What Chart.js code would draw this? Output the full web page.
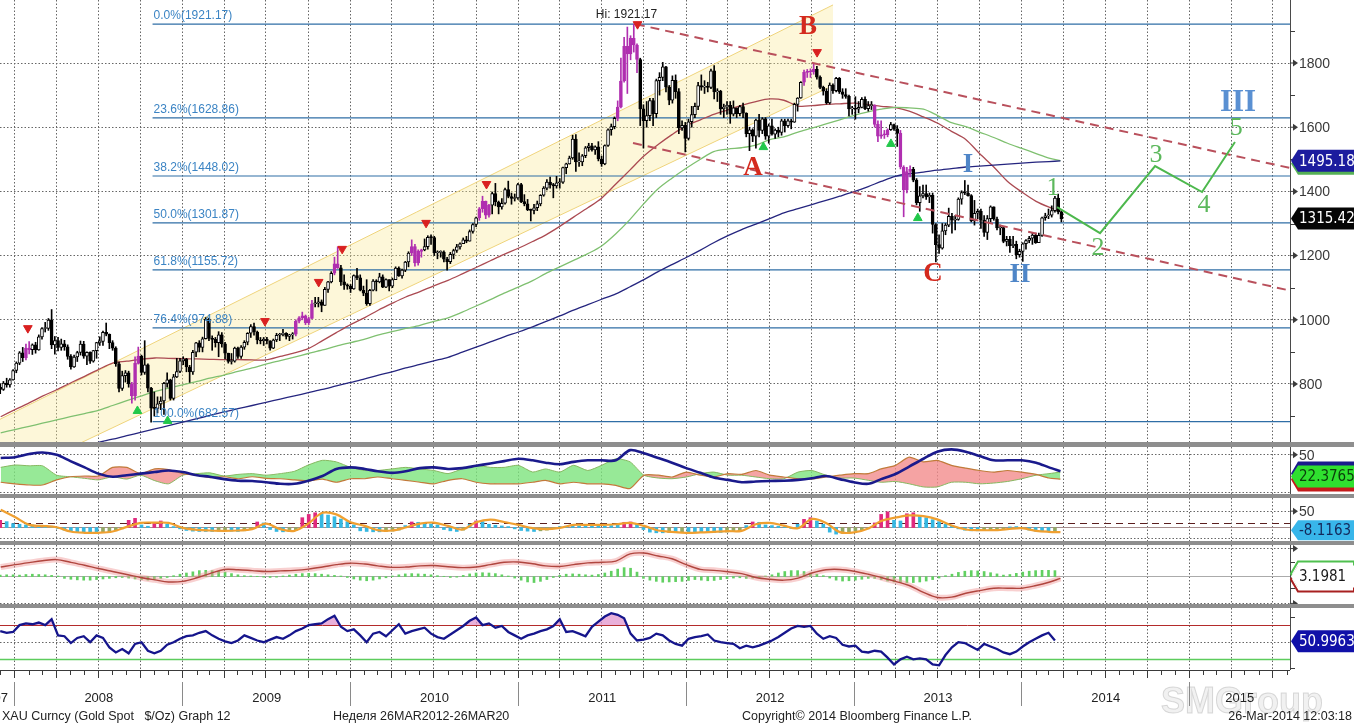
<!DOCTYPE html>
<html><head><meta charset="utf-8"><title>XAU Curncy</title>
<script src="https://cdn.jsdelivr.net/npm/chart.js@4.4.1/dist/chart.umd.min.js"></script>
<style>
html,body{margin:0;padding:0;background:#fff;}
#wrap{position:relative;width:1354px;height:723px;overflow:hidden;background:#fff;}
.pane{position:absolute;left:0;width:1354px;}
.sep{position:absolute;left:0;width:1354px;background:#8e8e8e;}
</style></head><body>
<div id="wrap">
 <div class="pane" style="top:0;height:442px"><canvas id="cMain"></canvas></div>
 <div class="sep" style="top:442px;height:5px"></div>
 <div class="pane" style="top:447px;height:47px"><canvas id="cDmi"></canvas></div>
 <div class="sep" style="top:494px;height:4px"></div>
 <div class="pane" style="top:498px;height:43px"><canvas id="cOsc"></canvas></div>
 <div class="sep" style="top:541px;height:4px"></div>
 <div class="pane" style="top:545px;height:59px"><canvas id="cMacd"></canvas></div>
 <div class="sep" style="top:604px;height:4px"></div>
 <div class="pane" style="top:608px;height:115px"><canvas id="cRsi"></canvas></div>
</div>
<script>
// ================= DATA =================
// weekly XAU candles, first week ending 30-Nov-2007
const FIRST_OPEN = 790;
const weekClose = [
783,803,797,813,842,
865,897,882,912,907,922,906,947,973,973,999,922,935,
914,925,916,886,853,884,898,924,887,899,871,904,929,
933,961,955,929,912,863,786,826,835,800,763,864,887,
836,860,787,725,724,738,747,802,813,755,822,839,872,
878,853,838,899,928,914,941,1002,942,939,929,953,925,
896,870,871,912,886,915,930,958,979,962,937,934,940,
934,912,937,952,954,958,948,953,955,996,1006,1012,991,
1004,1050,1052,1056,1045,1095,1118,1145,1174,1162,1118,1109,1105,
1096,1138,1131,1092,1083,1050,1092,1121,1118,1134,1102,1125,1105,
1125,1161,1137,1155,1180,1208,1228,1177,1213,1218,1228,1257,1256,
1209,1210,1211,1189,1181,1204,1216,1227,1237,1249,1245,1275,1297,
1318,1346,1369,1326,1357,1393,1367,1352,1363,1406,1384,1378,1380,1421,
1368,1361,1343,1341,1349,1361,1388,1410,1429,1421,1417,1427,
1429,1474,1486,1504,1563,1492,1492,1511,1536,1542,1529,1539,1501,
1486,1543,1592,1602,1628,1663,1744,1852,1828,1877,1856,1811,1657,1620,
1636,1683,1642,1745,1755,1788,1725,1684,1746,1711,1598,1606,1565,
1617,1639,1665,1730,1725,1725,1724,1776,1710,1712,1657,1663,1668,
1641,1660,1642,1664,1644,1580,1592,1572,1622,1590,1626,1572,1604,
1578,1591,1584,1620,1605,1620,1616,1671,1691,1740,1771,1773,1772,
1780,1756,1724,1712,1676,1731,1714,1752,1710,1702,1696,1657,1657,
1656,1662,1687,1658,1667,1667,1609,1572,1576,1577,1592,1608,1595,
1581,1476,1405,1462,1469,1435,1365,1386,1393,1383,1388,1297,1234,
1223,1277,1295,1322,1310,1313,1376,1396,1395,1387,1308,1332,1338,
1310,1272,1315,1352,1314,1286,1287,1244,1251,1231,1235,1203,1213,
1237,1247,1254,1264,1240,1263,1318,1324,1326,1340,1379,1336,1315];
const weekHigh = [
800,808,818,817,845,
869,901,914,924,932,925,930,953,976,992,1004,1032,948,
945,940,936,922,892,890,902,934,933,900,900,905,930,
947,965,990,956,935,916,868,840,842,840,805,885,915,
890,935,863,790,775,760,760,805,835,815,830,880,880,
885,880,858,905,930,935,946,1007,1005,950,945,963,960,
930,896,895,915,915,920,935,960,985,990,965,945,945,
945,935,940,958,958,970,960,955,960,1000,1010,1024,1015,
1008,1061,1070,1070,1062,1101,1120,1150,1195,1227,1170,1140,1112,
1110,1140,1160,1140,1105,1125,1095,1125,1125,1145,1140,1128,1125,
1130,1165,1165,1158,1182,1212,1249,1235,1218,1220,1252,1262,1265,
1260,1215,1215,1215,1195,1210,1220,1235,1240,1255,1260,1280,1300,
1320,1350,1385,1370,1360,1398,1425,1370,1378,1410,1432,1395,1392,1425,
1425,1390,1375,1345,1360,1370,1390,1415,1437,1445,1425,1447,
1440,1476,1488,1510,1575,1577,1520,1515,1540,1550,1550,1542,1555,
1510,1545,1595,1610,1632,1682,1815,1880,1912,1885,1921,1860,1815,1670,
1680,1690,1690,1750,1770,1802,1790,1730,1760,1763,1720,1620,1615,
1625,1665,1675,1740,1763,1745,1740,1781,1792,1720,1715,1672,1680,
1680,1682,1660,1668,1675,1645,1600,1595,1625,1640,1630,1630,1610,
1625,1595,1600,1625,1625,1625,1625,1675,1692,1742,1778,1780,1782,
1796,1790,1760,1728,1720,1738,1735,1755,1755,1720,1720,1700,1665,
1695,1680,1692,1695,1680,1680,1670,1620,1620,1590,1595,1615,1610,
1605,1590,1480,1475,1480,1475,1440,1415,1420,1420,1395,1395,1300,
1265,1300,1300,1348,1332,1325,1380,1402,1434,1420,1390,1372,1345,
1345,1325,1325,1355,1352,1320,1295,1290,1260,1260,1260,1245,1220,
1240,1250,1260,1270,1270,1270,1320,1332,1345,1355,1385,1392,1340];
const weekLow = [
770,780,790,790,812,
835,860,870,875,894,892,896,905,940,962,967,910,893,
903,905,905,877,846,852,870,890,880,860,864,868,880,
920,920,950,910,905,855,775,780,806,790,740,750,862,
828,830,775,681,700,710,720,705,790,750,750,820,835,
860,838,805,830,885,900,900,940,935,905,915,885,915,
878,865,862,868,880,880,908,922,945,952,925,925,920,
925,905,910,932,935,950,940,935,940,950,990,1000,985,
985,1003,1040,1040,1025,1045,1085,1115,1140,1160,1107,1095,1095,
1085,1095,1125,1090,1075,1045,1045,1090,1090,1115,1100,1100,1090,
1100,1125,1135,1130,1150,1165,1200,1167,1170,1195,1215,1220,1235,
1200,1190,1195,1180,1155,1175,1190,1210,1220,1240,1240,1245,1270,
1290,1310,1335,1315,1320,1330,1355,1330,1345,1360,1380,1360,1370,1375,
1365,1355,1340,1308,1330,1340,1355,1385,1405,1410,1380,1410,
1410,1425,1455,1485,1500,1462,1478,1480,1505,1525,1525,1515,1495,
1478,1483,1540,1575,1595,1620,1660,1740,1705,1810,1834,1770,1605,1535,
1600,1620,1605,1630,1700,1745,1710,1670,1675,1690,1580,1590,1523,
1560,1600,1630,1655,1715,1705,1710,1720,1688,1680,1640,1630,1640,
1612,1635,1630,1635,1630,1570,1527,1555,1535,1570,1580,1562,1550,
1575,1565,1570,1575,1585,1600,1595,1615,1650,1690,1730,1755,1755,
1765,1750,1720,1700,1672,1672,1705,1710,1705,1690,1690,1635,1640,
1625,1645,1660,1655,1650,1655,1600,1555,1565,1565,1570,1590,1590,
1540,1470,1321,1395,1445,1430,1358,1338,1380,1375,1365,1270,1180,
1207,1220,1265,1290,1270,1280,1310,1360,1390,1385,1305,1295,1315,
1285,1260,1250,1305,1310,1280,1265,1240,1230,1210,1225,1190,1195,
1182,1220,1240,1235,1238,1240,1260,1310,1315,1320,1335,1330,1305];

// monthly moving averages (1st of month, Dec-2007 .. Mar-2014, then 26-Mar-2014)
const ma50 = [698,720,741,762,782,803,824,845,865,871,877,881,880,879,878,877,876,876,875,875,886,897,910,935,960,985,1007,1029,1051,1071,1088,1106,1123,1143,1163,1184,1204,1223,1244,1264,1291,1320,1349,1379,1423,1467,1510,1546,1577,1605,1623,1640,1654,1668,1680,1688,1684,1666,1667,1671,1673,1675,1670,1665,1661,1650,1632,1613,1587,1562,1518,1476,1431,1398,1369,1351,1338];
const ma100 = [648,658,668,678,688,698,708,718,733,748,762,776,787,797,808,818,828,839,850,862,873,884,895,906,918,929,940,952,963,973,983,995,1006,1024,1043,1063,1083,1102,1122,1144,1165,1185,1206,1230,1268,1313,1362,1408,1441,1472,1500,1524,1532,1536,1544,1561,1570,1585,1597,1610,1623,1637,1648,1656,1662,1660,1656,1637,1614,1602,1585,1568,1550,1534,1518,1504,1496];
const ma200 = [543,554,565,575,586,597,607,618,628,639,649,660,670,681,692,702,713,723,733,743,753,763,773,783,794,805,816,827,838,850,861,872,883,899,915,931,947,962,978,994,1012,1030,1047,1064,1081,1103,1125,1150,1172,1194,1217,1240,1262,1281,1298,1315,1333,1346,1359,1372,1385,1399,1415,1431,1447,1455,1460,1466,1471,1476,1479,1482,1485,1488,1491,1493,1495];

// Fibonacci retracement
const fibPct = ['0.0%','23.6%','38.2%','50.0%','61.8%','76.4%','100.0%'];
const fibLevel = [1921.17,1628.86,1448.02,1301.87,1155.72,974.88,682.57];
const FIB_START = 2008.82;

// regression channel (decimal years / price)
const chanT = [2007.911, 2012.875];
const chanUpV = [690, 1981];
const chanLoV = [497, 1730];
// falling trend channel
const trendUpT = [2011.70, 2015.598];
const trendUpV = [1921, 1473];
const trendLoT = [2011.683, 2015.598];
const trendLoV = [1551, 1091];
// wave projection
const projT = [2014.21, 2014.466, 2014.794, 2015.074, 2015.27];
const projV = [1351, 1270, 1479, 1398, 1554];
// swing markers
const topMarkT = [2008.077, 2009.49, 2009.81, 2009.95, 2010.45, 2010.81, 2011.71, 2012.78];
const topMarkV = [974, 996, 1118, 1221, 1302, 1423, 1921, 1834];
const botMarkT = [2008.73, 2008.91, 2012.46, 2013.22, 2013.38];
const botMarkV = [716, 685, 1538, 1548, 1317];
// wave labels
const waveText = ['A','B','C','I','II','III','1','2','3','4','5'];
const waveT = [2012.398,2012.726,2013.471,2013.679,2013.989,2015.288,2014.186,2014.454,2014.80,2015.086,2015.277];
const waveV = [1473,1912,1143,1482,1140,1675,1411,1224,1513,1358,1598];
const HI_T = 2011.68, HI_V = 1921.17;
const lastPrice = 1315.42, lastMA200 = 1495.18;

// DMI panel (monthly)
const adx = [46,47,51,53,50,42,34,26,22,24,26,28,30,28,24,22,19,17,16.5,15,13,13,17,23,32,34,32,29,27,29,33,34,32,33,36,39,42,45,43,40,38,41,43,43,43,56,52,46,40,33,27,21,18,15,16,16.6,17,18,20,23,19,15,13,19,25.5,35,45,54,57,54,48.5,43,43,43,40,34,29];
const plusDI = [34,37,36,36,24,22,20,18,22,19,24,17,13,24,26,27,23,25,26,24,26,29,37,43,41,34,30,30,32,34,32,30,26,32,36.6,34,34,36.6,28,32,28,36.6,30,36.6,45,41,24,20.4,19.5,21.7,26,28,24,24,21.7,19.5,19.5,28,30,24,20.4,20.4,17.5,15,16,13,9,9,15,15,13,14,16,19.5,24,26,28];
const minusDI = [15,13,11.5,11.5,18,22,23,23,34,34,26,32,31,26,24,21,22,19.5,22,20,19.5,18,16.6,19,15,19.5,19.5,21.7,19.5,17.5,15,13,17.5,19.5,15,13,13,13,15,17.5,13,15,13,13,11,7,24,24,21.7,28,24,21.7,26,25,30,24,21.7,19.5,19,21.7,24,26,26,32,36.6,47,41,43,36.6,33,30,28,30,28,25,20.4,19];
const dmiLast = '22.3765';

// oscillator panel: biweekly histogram + monthly signal
const oscHist = [22,18,12,10,8,8,7,6,4,-3, -8,-11,-13,-15,-16,-16,-15,-13,-10,-4, 22,28,8,4,16,20,10,3,-4,-9, -11,-12,-12,-12,-11,-10,-11,-12,-10,-5, 17,14,-6,-12,-13,-12,-9,30,40,45, 42,38,33,26,18,8,-10,-12,-13,-13, -12,-11,-8,6,17,16,12,11,8,-6, -10,-12,-8,10,20,18,10,7,5,3, -4,-9,-11,-12,-10,-8,-3,3,4,5, 5,4,5,5,4,6,8,16,17,10, -6,-14,-16,-16,-15,-15,-14,-14,-14,-14, -14,-15,-15,-14,-12,-10,6,17,16,8, 6,4,2,-3,10,25,30,20,10,-14, -20,-18,-13,-10,-7,-4,14,40,48,22, 20,42,45,35,30,24,18,10,5,-4, -8,-10,-10,-9,-8,-7,-5,2,3,-3, -8,-11,-12,-13,-12];
const oscSignal = [54,32,8,5,1,-12,-16,-16,-12,2,14,15,14,-1,-7,-9,-10,-9,-5,12,-5,-10,12,45,40,16,5,-8,-9,0,12,15,5,-6,16,24,17,8,-2,-5,-1,8,8,8,10,14,5,-9,-13,-16,-15,-13,-11,-10,10,14,6,-2,26,14,-14,-15,-3,20,30,37,35,25,6,-6,-8,-8,-5,-2,-10,-13,-14];
const OSC_TRIGGER = 12;
const oscLast = '-8.1163';

// MACD-type panel: monthly line + biweekly histogram
const macdLine = [3.2,4.0,4.7,5.3,5.7,4.8,3.8,2.7,1.7,0.7,-0.3,-1.1,-1.8,-1.6,-0.4,1.0,2.4,2.3,2.0,1.7,1.9,2.1,2.5,3.2,4.0,4.5,4.2,3.6,3.1,3.2,3.6,3.7,3.3,3.0,3.2,4.0,4.8,4.9,4.3,3.6,3.4,4.0,4.6,4.8,5.2,7.6,7.9,6.9,6.0,4.0,2.4,2.1,1.6,1.0,-0.3,-0.9,-1.2,-0.5,1.2,2.3,2.4,1.8,0.8,-0.3,-1.6,-3.0,-5.3,-7.0,-6.9,-5.6,-4.7,-3.9,-3.9,-3.9,-3.0,-1.9,-0.6];
const macdHist = [0.5,0.6,0.6,0.5,0.7,0.8,0.7,0.6,0.4,0.2, -0.6,-0.9,-1.1,-1.2,-1.2,-1.0,-0.8,-0.6,-0.4,-0.3, -0.5,-0.8,-1.0,-1.2,-1.0,-0.6,-0.3,0.3,0.8,1.2, 1.6,2.0,2.1,2.0,1.8,1.5,1.0,0.6,0.3,0.2, 0.1,-0.2,-0.3,-0.2,0.2,0.5,0.8,1.0,1.1,1.0, 0.8,0.6,0.4,0.2,-0.3,-0.8,-1.2,-1.4,-1.2,-0.8, -0.4,0.2,0.6,0.9,1.0,0.9,0.8,0.6,0.3,0.1, -0.3,-0.2,0.4,0.9,1.2,1.3,1.2,1.0,0.6,0.2, -0.5,-1.2,-1.8,-2.0,-1.6,-1.0,-0.3,0.4,0.8,0.9, 0.8,0.6,0.5,0.7,1.2,1.8,2.5,3.0,2.8,1.5, -0.6,-1.2,-1.6,-1.9,-1.8,-1.7,-1.6,-1.3,-1.0,-1.2, -1.4,-1.3,-1.0,-0.7,-0.5,-0.4,-0.6,-0.5,-0.3,0.2, 0.6,1.2,1.7,2.0,2.0,1.7,1.2,0.8,0.3,-0.5, -1.2,-1.5,-1.4,-1.2,-0.9,-0.6,-0.6,-1.0,-1.5,-1.8, -2.0,-2.1,-2.0,-1.8,-1.5,-1.0,-0.5,0.3,0.8,1.4, 1.8,2.0,1.9,1.7,1.3,0.9,0.5,0.7,1.1,1.5, 1.8,2.0,2.1,2.1,2.0];
const macdLast = '3.1981';

// RSI (biweekly)
const rsi = [63,61,62,70,72,71,73,70,77,58, 57,49,55,57,50,58,55,44,38,42, 37,48,50,40,37,40,47,50,54,57, 58,61,63,58,54,51,49,52,58,55, 52,50,53,56,54,58,63,66,70,71, 72,77,81,68,63,65,58,50,60,62, 57,64,71,60,63,65,67,60,56,54, 59,64,69,75,79,70,72,67,69,62, 58,54,58,60,63,65,69,77,62,63, 60,57,68,74,80,84,82,78,60,52, 53,55,60,58,52,48,46,54,56,57, 59,52,50,49,48,43,46,44,46,49, 52,56,61,66,69,68,69,60,54,57, 55,47,45,46,39,38,40,39,32,24, 30,33,30,31,30,24,23,35,44,50, 49,45,41,48,45,42,38,36,39,45, 50,54,58,61,52];
const RSI_HI = 70, RSI_LO = 30;
const rsiLast = '50.9963';

// axis labels
const priceTicks = [800,1000,1200,1400,1600,1800];
const priceMinor = [700,900,1100,1300,1500,1700,1900];
const yearLabels = [2008,2009,2010,2011,2012,2013,2014,2015];
const footerLeft = 'XAU Curncy (Gold Spot   $/Oz) Graph 12';
const footerMid = 'Неделя 26MAR2012-26MAR20';
const footerCopy = 'Copyright\u00a9 2014 Bloomberg Finance L.P.';
const footerDate = '26-Mar-2014 12:03:18';
const highlightWeeks = [[8,9],[41,43],[92,97],[104,105],[128,131],[149,152],[192,198],[250,253],[272,276],[280,283]];

// ================= HELPERS =================
const DAY = 864e5;
const START = Date.UTC(2007,10,30);
function tOfMs(ms){const y=new Date(ms).getUTCFullYear();const a=Date.UTC(y,0,1),b=Date.UTC(y+1,0,1);return y+(ms-a)/(b-a);}
const X_MIN = 2007.911, X_MAX = 2015.598;
const AXIS_W = 64;
const SANS = '"Liberation Sans", Arial, sans-serif';
const NARROW = '"Liberation Sans Narrow", "DejaVu Sans Condensed", "Liberation Sans", sans-serif';
const SERIF = '"Liberation Serif", "DejaVu Serif", serif';

const wT = weekClose.map((_,i)=>tOfMs(START+i*7*DAY));
const bT = oscHist.map((_,i)=>tOfMs(START+i*14*DAY));
const mT = ma50.map((_,k)=> k<ma50.length-1 ? tOfMs(Date.UTC(2007,11+k,1)) : tOfMs(Date.UTC(2014,2,26)));
const quarterTs=[], monthTs=[];
for(let yr=2007;yr<=2015;yr++)for(let m=0;m<12;m++){const t=tOfMs(Date.UTC(yr,m,1)); if(t<X_MIN||t>X_MAX)continue; monthTs.push({t,q:m%3===0}); if(m%3===0)quarterTs.push(t);}
const pts=(ts,vs)=>ts.map((t,i)=>({x:t,y:vs[i]}));

function line(ctx,x1,y1,x2,y2){ctx.beginPath();ctx.moveTo(x1,y1);ctx.lineTo(x2,y2);ctx.stroke();}
function txt(ctx,s,x,y,font,color,align,base){ctx.font=font;ctx.fillStyle=color;ctx.textAlign=align||'center';ctx.textBaseline=base||'middle';ctx.fillText(s,x,y);}
function arrowTick(ctx,x0,py){ctx.fillStyle='#3c3c3c';ctx.strokeStyle='#3c3c3c';ctx.lineWidth=1;line(ctx,x0,py,x0+4,py);ctx.beginPath();ctx.moveTo(x0+3,py-3.5);ctx.lineTo(x0+8,py);ctx.lineTo(x0+3,py+3.5);ctx.closePath();ctx.fill();}
function minorTick(ctx,x0,py){ctx.strokeStyle='#3c3c3c';ctx.lineWidth=1;line(ctx,x0,Math.round(py)+0.5,x0+5,Math.round(py)+0.5);}
function valBox(ctx,x0,yc,h,fill,stroke,text,tcolor,font){
  ctx.beginPath();ctx.moveTo(x0+1,yc);ctx.lineTo(x0+8,yc-h/2);ctx.lineTo(1354,yc-h/2);ctx.lineTo(1354,yc+h/2);ctx.lineTo(x0+8,yc+h/2);ctx.closePath();
  if(fill){ctx.fillStyle=fill;ctx.fill();}
  if(stroke){ctx.strokeStyle=stroke;ctx.lineWidth=2;ctx.stroke();}
  if(text){txt(ctx,text,x0+9,yc+1,font||('15px '+NARROW),tcolor,'left','middle');}
}
function baseOpts(yMin,yMax,padBottom){
  return {responsive:true,maintainAspectRatio:false,animation:false,events:[],
    layout:{autoPadding:false,padding:{left:0,right:AXIS_W,top:0,bottom:padBottom||0}},
    elements:{point:{radius:0},line:{tension:0}},
    plugins:{legend:{display:false},tooltip:{enabled:false}},
    scales:{
      x:{type:'linear',min:X_MIN,max:X_MAX,display:false,offset:false},
      y:{type:'linear',min:yMin,max:yMax,display:false}
    }};
}
function decor(cfg){
  return {id:'decor_'+cfg.name,
    beforeDatasetsDraw(chart){
      const {ctx,chartArea:a,scales:{x,y}}=chart;
      ctx.save();ctx.beginPath();ctx.rect(a.left,a.top,a.right-a.left,a.bottom-a.top);ctx.clip();
      ctx.lineWidth=1;ctx.strokeStyle='#666666';ctx.setLineDash([1.5,2]);
      quarterTs.forEach(t=>{const px=Math.floor(x.getPixelForValue(t))+0.5;line(ctx,px,a.top,px,a.bottom);});
      (cfg.hGrid||[]).forEach(v=>{const py=Math.floor(y.getPixelForValue(v))+0.5;line(ctx,a.left,py,a.right,py);});
      (cfg.hLines||[]).forEach(h=>{ctx.strokeStyle=h.c;ctx.lineWidth=h.w||1;ctx.setLineDash(h.d||[]);const py=Math.floor(y.getPixelForValue(h.v))+0.5;line(ctx,a.left,py,a.right,py);});
      ctx.restore();
    },
    afterDraw(chart){
      const {ctx,chartArea:a}=chart;
      ctx.save();
      ctx.strokeStyle='#4a4a4a';ctx.lineWidth=1;ctx.setLineDash([]);
      line(ctx,Math.floor(a.right)+0.5,0,Math.floor(a.right)+0.5,a.bottom);
      if(cfg.after)cfg.after(chart);
      ctx.restore();
    }
  };
}

// ================= MAIN PRICE PANEL =================
const inHL = i => highlightWeeks.some(r=>i>=r[0]&&i<=r[1]);
const MAG = '#b02fb0';
const wOpen = weekClose.map((c,i)=> i===0?FIRST_OPEN:weekClose[i-1]);
const bodyFill = weekClose.map((c,i)=> inHL(i)?MAG:(c>=wOpen[i]?'#ffffff':'#000000'));
const bodyLine = weekClose.map((c,i)=> inHL(i)?MAG:'#000000');

const mainDs = [];
mainDs.push({type:'line',data:pts(chanT,chanUpV),borderColor:'#efd47c',borderWidth:1,fill:{target:1,above:'rgba(250,232,150,0.36)',below:'rgba(250,232,150,0.36)'},order:30});
mainDs.push({type:'line',data:pts(chanT,chanLoV),borderColor:'#efd47c',borderWidth:1,fill:false,order:29});
fibLevel.forEach(v=>mainDs.push({type:'line',data:[{x:FIB_START,y:v},{x:X_MAX,y:v}],borderColor:'#2f6ea6',borderWidth:1.2,fill:false,order:25}));
mainDs.push({type:'line',data:pts(mT,ma200),borderColor:'#25257f',borderWidth:1.3,tension:0.3,fill:false,order:20});
mainDs.push({type:'line',data:pts(mT,ma100),borderColor:'#7fc070',borderWidth:1.3,tension:0.3,fill:false,order:20});
mainDs.push({type:'line',data:pts(mT,ma50),borderColor:'#ab4a52',borderWidth:1.3,tension:0.3,fill:false,order:20});
mainDs.push({type:'bar',data:wT.map((t,i)=>({x:t,y:[weekLow[i],weekHigh[i]]})),backgroundColor:bodyLine,borderWidth:0,barThickness:1,grouped:false,order:12});
mainDs.push({type:'bar',data:wT.map((t,i)=>({x:t,y:[wOpen[i],weekClose[i]]})),backgroundColor:bodyFill,borderColor:bodyLine,borderWidth:1,borderSkipped:false,barThickness:3,minBarLength:1,grouped:false,order:11});
mainDs.push({type:'line',data:pts(trendUpT,trendUpV),borderColor:'#b9505c',borderWidth:2,borderDash:[9,6],fill:false,order:8});
mainDs.push({type:'line',data:pts(trendLoT,trendLoV),borderColor:'#b9505c',borderWidth:2,borderDash:[9,6],fill:false,order:8});
mainDs.push({type:'line',data:pts(projT,projV),borderColor:'#4db84d',borderWidth:2,fill:false,order:7});
mainDs.push({type:'line',data:pts(topMarkT,topMarkV),showLine:false,pointStyle:'triangle',rotation:180,pointRadius:5,pointBackgroundColor:'#d92020',pointBorderColor:'#d92020',order:5});
mainDs.push({type:'line',data:pts(botMarkT,botMarkV),showLine:false,pointStyle:'triangle',pointRadius:5,pointBackgroundColor:'#22c84a',pointBorderColor:'#22c84a',order:5});

const waveStyle = {
  red:{font:'bold 27px '+SERIF,color:'#d42a1e'},
  blue:{font:'bold 27px '+SERIF,color:'#4f86c8'},
  blueL:{font:'bold 31px '+SERIF,color:'#5a90d2'},
  green:{font:'26px '+SERIF,color:'#5cb85c'}
};
const waveKind = ['red','red','red','blue','blue','blueL','green','green','green','green','green'];

new Chart(document.getElementById('cMain'),{
  type:'line',data:{datasets:mainDs},options:baseOpts(619.3,1996.3),
  plugins:[decor({name:'main',hGrid:priceTicks,after(chart){
    const {ctx,chartArea:a,scales:{x,y}}=chart;
    fibLevel.forEach((lv,i)=>txt(ctx,fibPct[i]+'('+lv.toFixed(2)+')',x.getPixelForValue(FIB_START)+1,y.getPixelForValue(lv)-2,'12px '+SANS,'#3b84c4','left','bottom'));
    txt(ctx,'Hi: 1921.17',x.getPixelForValue(HI_T)-6,y.getPixelForValue(HI_V)-9,'12px '+SANS,'#222','center','middle');
    waveText.forEach((s,i)=>{const st=waveStyle[waveKind[i]];txt(ctx,s,x.getPixelForValue(waveT[i]),y.getPixelForValue(waveV[i]),st.font,st.color);});
    priceMinor.forEach(v=>minorTick(ctx,a.right,y.getPixelForValue(v)));
    priceTicks.forEach(v=>{const py=y.getPixelForValue(v);arrowTick(ctx,a.right,py);txt(ctx,String(v),a.right+9,py+1,'14px '+SANS,'#3a3a3a','left','middle');});
    valBox(ctx,a.right,y.getPixelForValue(lastMA200)+3,22,'#55b055',null,null);
    valBox(ctx,a.right,y.getPixelForValue(lastMA200),22,'#1c1c9e',null,lastMA200.toFixed(2),'#ffffff');
    valBox(ctx,a.right,y.getPixelForValue(lastPrice),22,'#050505',null,lastPrice.toFixed(2),'#ffffff');
  }})]
});

// ================= DMI PANEL =================
new Chart(document.getElementById('cDmi'),{
  type:'line',
  data:{datasets:[
    {data:pts(mT,adx),borderColor:'#1a1a8c',borderWidth:2.6,tension:0.3,fill:false,order:1},
    {data:pts(mT,plusDI),borderColor:'#86b860',borderWidth:1,tension:0.2,fill:{target:2,above:'rgba(125,228,125,0.8)',below:'rgba(242,140,140,0.8)'},order:3},
    {data:pts(mT,minusDI),borderColor:'#c27a3a',borderWidth:1.2,tension:0.2,fill:false,order:2}
  ]},
  options:baseOpts(0,60),
  plugins:[decor({name:'dmi',hGrid:[50,1.5],after(chart){
    const {ctx,chartArea:a,scales:{y}}=chart;
    const py=y.getPixelForValue(50);arrowTick(ctx,a.right,py);txt(ctx,'50',a.right+9,py+1,'14px '+SANS,'#3a3a3a','left','middle');
    const yc=y.getPixelForValue(22.3765);
    valBox(ctx,a.right,yc-3,24,'#1a1a8c',null,null);
    valBox(ctx,a.right,yc+3,24,'#c41a1a',null,null);
    valBox(ctx,a.right,yc,22,'#2fe02f',null,dmiLast,'#0b3d0b');
  }})]
});

// ================= OSCILLATOR PANEL =================
const oscColors = oscHist.map((v,i)=>{const p=i?oscHist[i-1]:v; if(v>=14&&v>=p)return '#e02a7e'; if(v>=0)return '#36b8e2'; return (v>p)?'#93a866':'#36b8e2';});
new Chart(document.getElementById('cOsc'),{
  type:'line',
  data:{datasets:[
    {type:'bar',data:pts(bT,oscHist),backgroundColor:oscColors,borderWidth:0,barThickness:3,grouped:false,order:3},
    {data:pts(mT,oscSignal),borderColor:'#f0a030',borderWidth:2.2,tension:0.35,fill:false,order:1}
  ]},
  options:baseOpts(-41,90),
  plugins:[decor({name:'osc',hGrid:[50,-33],hLines:[{v:OSC_TRIGGER,c:'#5a1e1e',d:[7,5]},{v:0,c:'#a58c8c'}],after(chart){
    const {ctx,chartArea:a,scales:{y}}=chart;
    const py=y.getPixelForValue(50);arrowTick(ctx,a.right,py);txt(ctx,'50',a.right+9,py+1,'14px '+SANS,'#3a3a3a','left','middle');
    valBox(ctx,a.right,y.getPixelForValue(-8.1163),20,'#38b6ea',null,oscLast,'#14285a');
  }})]
});

// ================= MACD PANEL =================
new Chart(document.getElementById('cMacd'),{
  type:'line',
  data:{datasets:[
    {type:'bar',data:pts(bT,macdHist),backgroundColor:'#62d062',borderWidth:0,barThickness:2,grouped:false,order:3},
    {data:pts(mT,macdLine),borderColor:'rgba(240,150,150,0.45)',borderWidth:6,tension:0.35,fill:false,order:2},
    {data:pts(mT,macdLine),borderColor:'#b0463f',borderWidth:1.4,tension:0.35,fill:false,order:1}
  ]},
  options:baseOpts(-9.2,10.6),
  plugins:[decor({name:'macd',hGrid:[9.4,-9],hLines:[{v:0,c:'#ababab'}],after(chart){
    const {ctx,chartArea:a,scales:{y}}=chart;
    arrowTick(ctx,a.right,y.getPixelForValue(9.4));arrowTick(ctx,a.right,y.getPixelForValue(-9));
    minorTick(ctx,a.right,y.getPixelForValue(4.8));minorTick(ctx,a.right,y.getPixelForValue(-3.7));
    const yc=y.getPixelForValue(0);
    valBox(ctx,a.right,yc-3,24,null,'#4fc04f',null);
    valBox(ctx,a.right,yc+3,24,null,'#a82020',null);
    valBox(ctx,a.right,yc,22,'#ffffff',null,macdLast,'#1a1a1a');
  }})]
});

// ================= RSI PANEL + TIME AXIS =================
new Chart(document.getElementById('cRsi'),{
  type:'line',
  data:{datasets:[
    {data:pts(bT,rsi),borderColor:'#15158c',borderWidth:2.3,fill:{target:{value:RSI_HI},above:'rgba(226,150,206,0.75)',below:'rgba(0,0,0,0)'},order:1}
  ]},
  options:baseOpts(17.5,90,53),
  plugins:[decor({name:'rsi',hGrid:[50],hLines:[{v:RSI_HI,c:'#b42b2b'},{v:RSI_LO,c:'#5ccc5c',w:1.5}],after(chart){
    const {ctx,chartArea:a,scales:{x,y}}=chart;
    minorTick(ctx,a.right,y.getPixelForValue(80));minorTick(ctx,a.right,y.getPixelForValue(20));
    valBox(ctx,a.right,y.getPixelForValue(50.9963),22,'#1010a8',null,rsiLast,'#ffffff');
    // bottom axis
    const by=a.bottom;
    ctx.strokeStyle='#3a3a3a';ctx.lineWidth=1;line(ctx,0,by+0.5,a.right,by+0.5);
    monthTs.forEach(m=>{const px=Math.floor(x.getPixelForValue(m.t))+0.5;line(ctx,px,by,px,by+(m.q?8:5));});
    // faint watermark
    ctx.font='bold 36px '+SANS;ctx.textAlign='center';ctx.textBaseline='middle';
    ctx.fillStyle='rgba(230,230,230,0.55)';ctx.fillText('SMGroup',1242,by+33);
    ctx.strokeStyle='rgba(175,175,175,0.45)';ctx.lineWidth=1;ctx.strokeText('SMGroup',1242,by+33);
    ctx.strokeStyle='#8a8a8a';
    yearLabels.forEach(yr=>{const px=Math.floor(x.getPixelForValue(tOfMs(Date.UTC(yr,0,1))))+0.5;line(ctx,px,by+12,px,by+36);});
    yearLabels.forEach(yr=>{
      const x0=x.getPixelForValue(tOfMs(Date.UTC(yr,0,1)));
      const x1=Math.min(a.right,x.getPixelForValue(tOfMs(Date.UTC(yr+1,0,1))));
      txt(ctx,String(yr),(x0+x1)/2,by+32,'13px '+SANS,'#222','center','alphabetic');
    });
    txt(ctx,'2007',8,by+32,'13px '+SANS,'#222','right','alphabetic');
    const fy=by+50;
    txt(ctx,footerLeft,2,fy,'12.5px '+SANS,'#222','left','alphabetic');
    txt(ctx,footerMid,333,fy,'12.5px '+SANS,'#222','left','alphabetic');
    txt(ctx,footerCopy,742,fy,'12.5px '+SANS,'#222','left','alphabetic');
    txt(ctx,footerDate,1352,fy,'12.5px '+SANS,'#222','right','alphabetic');
  }})]
});
</script>
</body></html>
